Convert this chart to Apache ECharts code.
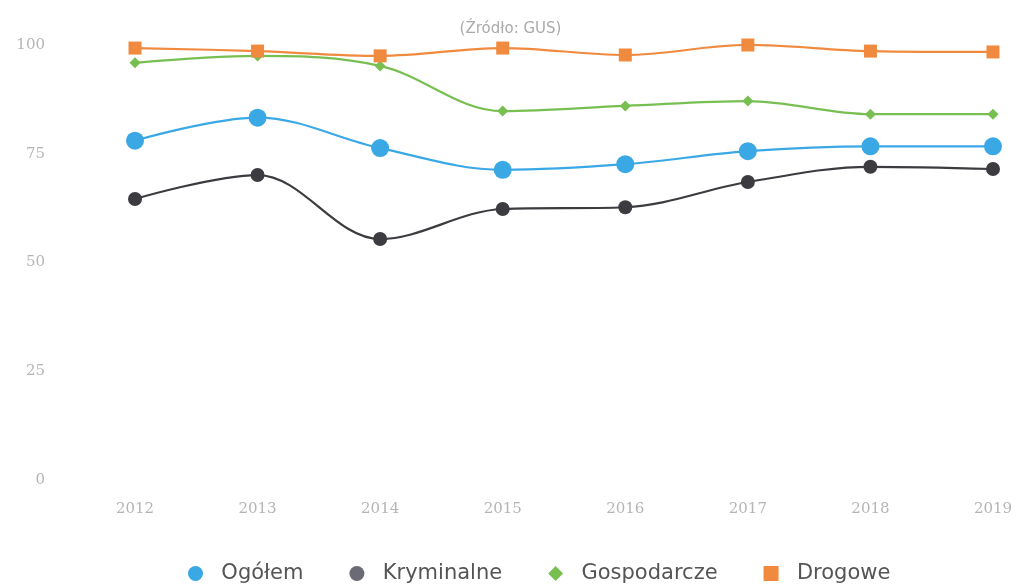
<!DOCTYPE html>
<html><head><meta charset="utf-8">
<script src="https://cdn.jsdelivr.net/npm/echarts@6/dist/echarts.min.js"></script>
<style>html,body{margin:0;padding:0;background:#fff}#c{width:1021px;height:585px}</style>
</head><body><div id="c"></div>
<script>
const years = ['2012','2013','2014','2015','2016','2017','2018','2019'];
const ogolem = [78.0, 83.3, 76.3, 71.3, 72.6, 75.6, 76.7, 76.7];
const kryminalne = [64.6, 70.1, 55.4, 62.3, 62.7, 68.5, 72.0, 71.5];
const gospodarcze = [95.9, 97.5, 95.2, 84.8, 86.0, 87.1, 84.1, 84.1];
const drogowe = [99.3, 98.6, 97.5, 99.3, 97.7, 100.0, 98.6, 98.4];
const yTicks = [0, 25, 50, 75, 100];

const chart = echarts.init(document.getElementById('c'));
function line(name, data, color, symbol, size, lw) {
  return {name, type:'line', data, smooth:0.35, symbol, symbolSize:size, showSymbol:true,
    lineStyle:{color, width:lw}, itemStyle:{color}, emphasis:{disabled:true}};
}
chart.setOption({
  animation:false,
  title:{text:'(Źródło: GUS)', left:'center', top:17,
    textStyle:{color:'#aaaaaa', fontSize:15, fontWeight:'normal', fontFamily:'DejaVu Sans'}},
  grid:{left:135, right:28, top:45, bottom:105, containLabel:false},
  xAxis:{type:'category', data:years, boundaryGap:false,
    axisLine:{show:false}, axisTick:{show:false}, splitLine:{show:false},
    axisLabel:{color:'#b5b5b5', fontSize:15, fontFamily:'DejaVu Serif', margin:22}},
  yAxis:{type:'value', min:0, max:100, interval:25,
    axisLine:{show:false}, axisTick:{show:false}, splitLine:{show:false},
    axisLabel:{color:'#b5b5b5', fontSize:15, fontFamily:'DejaVu Serif', margin:90,
      formatter:v=>yTicks.includes(v)?String(v):''}},
  legend:{top:558, left:183, itemGap:46, itemWidth:15, itemHeight:15,
    formatter: n => '  ' + n,
    textStyle:{color:'#555555', fontSize:21, fontFamily:'DejaVu Sans'},
    data:[{name:'Ogółem', icon:'circle'},{name:'Kryminalne', icon:'circle', itemStyle:{color:'#6a6b74'}},
      {name:'Gospodarcze', icon:'diamond'},{name:'Drogowe', icon:'rect'}]},
  series:[
    line('Ogółem', ogolem, '#3ba8e6', 'circle', 18, 2.2),
    line('Kryminalne', kryminalne, '#3c3c40', 'circle', 14, 2.2),
    line('Gospodarcze', gospodarcze, '#78bf52', 'diamond', 11, 2.2),
    line('Drogowe', drogowe, '#f08a3e', 'rect', 13, 2.2)
  ]
});
</script></body></html>
